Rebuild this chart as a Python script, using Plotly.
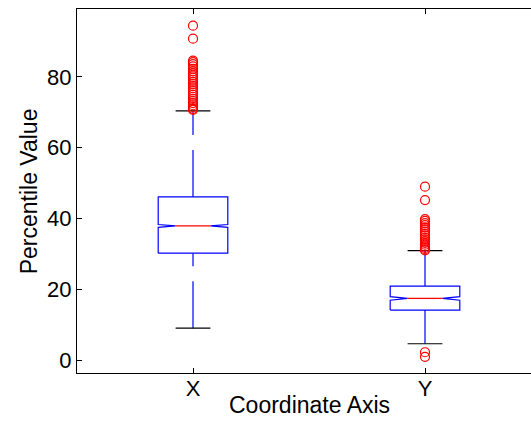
import plotly.graph_objects as go

# Summary statistics of the two coordinate distributions
groups = ["X", "Y"]
q1 = [30.2, 14.1]
median = [37.9, 17.4]
q3 = [46.1, 20.9]
whisker_low = [9.0, 4.6]
whisker_high = [70.4, 30.9]
notch_half = [0.4, 0.5]

# Points beyond the whiskers
outliers_x = [94.5, 90.8, 84.6, 84.2, 83.6, 83.0, 82.3, 81.6, 81.0, 80.4, 79.8,
              79.2, 78.6, 78.0, 77.4, 76.8, 76.2, 75.6, 75.0, 74.4, 73.8, 73.2,
              72.6, 72.0, 71.5, 71.0, 70.7]
outliers_y = [49.0, 45.2, 39.8, 39.3, 38.7, 38.1, 37.5, 36.9, 36.3, 35.7, 35.2,
              34.6, 34.1, 33.6, 33.1, 32.6, 32.1, 31.7, 31.3, 31.0, 2.2, 0.9]
outliers = [outliers_x, outliers_y]

y_ticks = [0, 20, 40, 60, 80]

BLUE = "rgb(0,0,255)"
RED = "rgb(255,0,0)"
FONT = "Liberation Sans, Arial, Helvetica, sans-serif"
HALF = 0.15  # half box width in category units

fig = go.Figure()

for i, name in enumerate(groups):
    c = i + 1
    # notched box outline
    bx = [c - HALF, c - HALF, c - HALF / 2, c - HALF, c - HALF,
          c + HALF, c + HALF, c + HALF / 2, c + HALF, c + HALF, c - HALF]
    by = [q1[i], median[i] - notch_half[i], median[i], median[i] + notch_half[i], q3[i],
          q3[i], median[i] + notch_half[i], median[i], median[i] - notch_half[i], q1[i], q1[i]]
    fig.add_trace(go.Scatter(x=bx, y=by, mode="lines",
                             line=dict(color=BLUE, width=1.2), hoverinfo="skip"))
    # median
    fig.add_trace(go.Scatter(x=[c - HALF / 2, c + HALF / 2], y=[median[i], median[i]],
                             mode="lines", line=dict(color=RED, width=1.2), hoverinfo="skip"))
    # whiskers (dashed)
    fig.add_trace(go.Scatter(x=[c, c], y=[whisker_low[i], q1[i]], mode="lines",
                             line=dict(color=BLUE, width=1.2, dash="47px,15px"), hoverinfo="skip"))
    fig.add_trace(go.Scatter(x=[c, c], y=[q3[i], whisker_high[i]], mode="lines",
                             line=dict(color=BLUE, width=1.2, dash="47px,15px"), hoverinfo="skip"))
    # whisker caps
    for v in (whisker_low[i], whisker_high[i]):
        fig.add_trace(go.Scatter(x=[c - HALF / 2, c + HALF / 2], y=[v, v], mode="lines",
                                 line=dict(color="black", width=1.2), hoverinfo="skip"))
    # outliers
    fig.add_trace(go.Scatter(x=[c] * len(outliers[i]), y=outliers[i], mode="markers",
                             marker=dict(symbol="circle-open", size=9, color=RED,
                                         line=dict(color=RED, width=1.2)),
                             hoverinfo="skip"))

fig.update_layout(
    width=531, height=421,
    margin=dict(l=77, r=0, t=9, b=48),
    paper_bgcolor="white", plot_bgcolor="white",
    showlegend=False,
    font=dict(family=FONT, size=21, color="black"),
    xaxis=dict(range=[0.5, 0.5 + 454 / 232], tickmode="array", tickvals=[1, 2],
               ticktext=groups, ticks="inside", ticklen=5, tickcolor="black",
               showline=True, linecolor="black", linewidth=1.3, mirror="ticks",
               showgrid=False, zeroline=False, tickfont=dict(size=22),
               ticklabelstandoff=-5),
    yaxis=dict(range=[-3.67, 99.2], tickmode="array", tickvals=y_ticks,
               ticks="inside", ticklen=5, tickcolor="black",
               showline=True, linecolor="black", linewidth=1.3,
               showgrid=False, zeroline=False, tickfont=dict(size=22)),
    annotations=[
        dict(text="Coordinate Axis", x=1.5, xref="x", y=-0.088, yref="paper",
             yanchor="middle", showarrow=False, font=dict(size=23)),
        dict(text="Percentile Value", x=-0.105, xref="paper", y=0.5, yref="paper",
             textangle=-90, xanchor="center", showarrow=False, font=dict(size=23)),
    ],
)

fig.write_html("out.html")
